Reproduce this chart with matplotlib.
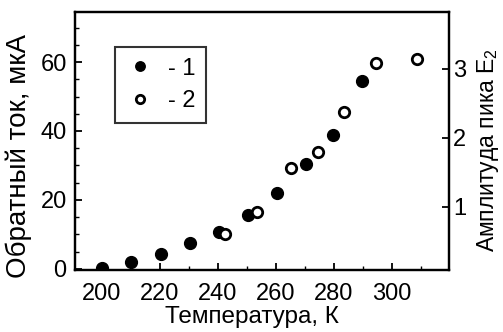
import matplotlib
matplotlib.use('Agg')
import matplotlib.pyplot as plt
from matplotlib.ticker import MultipleLocator

plt.rcParams['font.family'] = ['Liberation Sans', 'DejaVu Sans']
plt.rcParams['mathtext.fontset'] = 'custom'
plt.rcParams['mathtext.rm'] = 'Liberation Sans'

# серия 1: обратный ток (левая ось)
t1 = [200, 210, 220.5, 230.5, 240.5, 250.5, 260.5, 270.5, 279.8, 289.8]
i1 = [0.2, 2.1, 4.3, 7.5, 10.8, 15.7, 22.1, 30.4, 38.8, 54.4]

# серия 2: амплитуда пика E2 (правая ось)
t2 = [242.5, 253.4, 265.3, 274.6, 283.6, 294.5, 308.5]
a2 = [0.61, 0.92, 1.56, 1.80, 2.37, 3.08, 3.14]

xticks = [200, 220, 240, 260, 280, 300]
yticks_left = [0, 20, 40, 60]
yticks_right = [1, 2, 3]

fig = plt.figure(figsize=(5.03, 3.32), dpi=100)
ax = fig.add_axes([75/503, 62/332, 374/503, 258/332])
ax2 = ax.twinx()

p1, = ax.plot(t1, i1, 'o', color='black', ms=8.5, label='- 1')
p2, = ax2.plot(t2, a2, 'o', mfc='white', mec='black', mew=2.0, ms=7.5, label='- 2')

lo, hi = -0.3, 74.5
ax.set_xlim(190.7, 319.7)
ax.set_ylim(lo, hi)
ax2.set_ylim((lo + 2) / 20, (hi + 2) / 20)

ax.set_xticks(xticks)
ax.set_yticks(yticks_left)
ax2.set_yticks(yticks_right)
ax.xaxis.set_minor_locator(MultipleLocator(10))
ax.yaxis.set_minor_locator(MultipleLocator(5))

ax.tick_params(direction='in', labelsize=17, width=1.3, length=5, pad=6)
ax.tick_params(axis='x', pad=9)
ax.tick_params(which='minor', direction='in', width=1.0, length=3)
ax2.tick_params(direction='in', labelsize=17, width=1.3, length=5, pad=3)
for a in (ax, ax2):
    for s in a.spines.values():
        s.set_linewidth(1.6)

ax.set_xlabel('Температура, К', fontsize=17.5)
ax.xaxis.set_label_coords((252 - 75) / 374, -0.14)
ax.set_ylabel('Обратный ток, мкА', fontsize=20)
ax.yaxis.set_label_coords((32 - 75) / 374, (270 - 156) / 258)
ax2.set_ylabel('Амплитуда пика E$_\\mathregular{2}$', fontsize=16.5)
ax2.yaxis.set_label_coords((475 - 75) / 374, (270 - 150) / 258)

leg = ax.legend(handles=[p1, p2], loc='upper left',
                bbox_to_anchor=((115 - 75) / 374, (270 - 47) / 258),
                borderaxespad=0, fancybox=False, fontsize=17,
                markerscale=0.8, handlelength=1.2, handletextpad=0.6,
                borderpad=0.45, labelspacing=0.45)
leg.get_frame().set_edgecolor('black')
leg.get_frame().set_linewidth(1.5)

fig.savefig('out.png', dpi=100)
